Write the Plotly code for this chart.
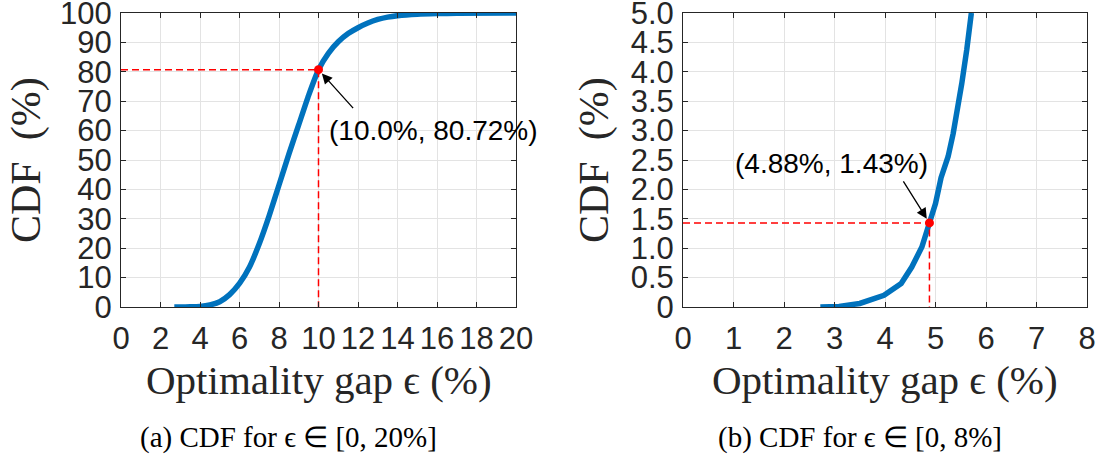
import plotly.graph_objects as go

# ---- data ----
gap_a = [2.7, 3.0, 3.5, 4.0, 4.5, 5.0, 5.5, 6.0, 6.5, 7.0, 7.5, 8.0, 8.5, 9.0, 9.5,
         10.0, 10.5, 11.0, 11.5, 12.0, 12.5, 13.0, 13.5, 14.0, 15.0, 16.0, 17.0, 20.0]
cdf_a = [0.0, 0.02, 0.06, 0.2, 0.7, 1.8, 4.2, 8.0, 13.5, 21.5, 31.0, 41.5, 52.0, 62.0, 72.0,
         80.72, 86.3, 90.2, 93.0, 95.0, 96.6, 97.8, 98.6, 99.1, 99.6, 99.8, 99.9, 100.0]

gap_b = [2.72, 3.09, 3.5, 3.98, 4.32, 4.53, 4.73, 4.88, 5.0, 5.11, 5.25, 5.35, 5.45, 5.52, 5.62, 5.71]
cdf_b = [0.0, 0.01, 0.06, 0.2, 0.4, 0.68, 1.02, 1.43, 1.76, 2.2, 2.56, 2.95, 3.4, 3.8, 4.38, 5.0]

point_a = (10.0, 80.72)
point_b = (4.88, 1.43)
label_a = "(10.0%, 80.72%)"
label_b = "(4.88%, 1.43%)"

xticks_a = list(range(0, 21, 2))
yticks_a = list(range(0, 101, 10))
xticks_b = list(range(0, 9))
yticks_b = [0, 0.5, 1.0, 1.5, 2.0, 2.5, 3.0, 3.5, 4.0, 4.5, 5.0]
yticktext_b = ["0", "0.5", "1.0", "1.5", "2.0", "2.5", "3.0", "3.5", "4.0", "4.5", "5.0"]

caption_a = "(a) CDF for ϵ ∈ [0, 20%]"
caption_b = "(b) CDF for ϵ ∈ [0, 8%]"
xtitle = "Optimality gap ϵ (%)"
ytitle = "CDF  (%)"

# ---- layout constants ----
W, H = 1101, 459
BLUE = "#0072BD"
RED = "#FF0000"
AX = "#262626"
GRID = "#e3e3e3"

def px(x):
    return x / W

def py(y):
    return 1 - y / H

fig = go.Figure()

for (gx, gy, pt, xa, ya, shp) in [(gap_a, cdf_a, point_a, "x", "y", "spline"),
                                  (gap_b, cdf_b, point_b, "x2", "y2", "linear")]:
    line = dict(color=BLUE, width=5.5, shape=shp)
    if shp == "spline":
        line["smoothing"] = 0.5
    fig.add_trace(go.Scatter(x=gx, y=gy, mode="lines", line=line,
                             xaxis=xa, yaxis=ya, showlegend=False, hoverinfo="skip"))
    fig.add_trace(go.Scatter(x=[0, pt[0], pt[0]], y=[pt[1], pt[1], 0], mode="lines",
                             line=dict(color=RED, width=1.5, dash="7px,4px"),
                             xaxis=xa, yaxis=ya, showlegend=False, hoverinfo="skip"))
    fig.add_trace(go.Scatter(x=[pt[0]], y=[pt[1]], mode="markers",
                             marker=dict(color=RED, size=9),
                             xaxis=xa, yaxis=ya, showlegend=False, hoverinfo="skip"))

tickfont = dict(family="Liberation Sans, Arial", size=31, color=AX)
common = dict(showline=True, linecolor=AX, linewidth=1, mirror="ticks", ticks="inside", ticklen=5,
              tickcolor=AX, tickwidth=1, showgrid=True, gridcolor=GRID, gridwidth=1, zeroline=False,
              tickfont=tickfont, fixedrange=True, automargin=False, ticklabeloverflow="allow")

ydom = [py(307), py(13)]
fig.update_layout(
    width=W, height=H, margin=dict(l=0, r=0, t=0, b=0, pad=0, autoexpand=False),
    paper_bgcolor="white", plot_bgcolor="white",
    xaxis=dict(domain=[px(121), px(516)], range=[0, 20], tickvals=xticks_a, anchor="y",
               ticklabelstandoff=4, **common),
    yaxis=dict(domain=ydom, range=[0, 100], tickvals=yticks_a, anchor="x",
               ticklabelstandoff=2, **common),
    xaxis2=dict(domain=[px(683), px(1087)], range=[0, 8], tickvals=xticks_b, anchor="y2",
                ticklabelstandoff=4, **common),
    yaxis2=dict(domain=ydom, range=[0, 5], tickvals=yticks_b, ticktext=yticktext_b, anchor="x2",
                ticklabelstandoff=2, **common),
)

serif = "Liberation Serif, Times New Roman, serif"
anns = []
# axis titles
for cx in (318.5, 885):
    anns.append(dict(text=xtitle, x=px(cx), y=py(380), xref="paper", yref="paper", showarrow=False,
                     font=dict(family=serif, size=41, color=AX), xanchor="center", yanchor="middle"))
for cx in (26, 594):
    anns.append(dict(text=ytitle, x=px(cx), y=py(160), xref="paper", yref="paper", showarrow=False,
                     textangle=-90, font=dict(family=serif, size=42, color=AX), xanchor="center", yanchor="middle"))
# captions
anns.append(dict(text=caption_a, x=px(288), y=py(437), xref="paper", yref="paper", showarrow=False,
                 font=dict(family=serif, size=29, color="#000"), xanchor="center", yanchor="middle"))
anns.append(dict(text=caption_b, x=px(860), y=py(437), xref="paper", yref="paper", showarrow=False,
                 font=dict(family=serif, size=29, color="#000"), xanchor="center", yanchor="middle"))
# point labels
anns.append(dict(text=label_a, x=px(327), y=py(130), xref="paper", yref="paper", showarrow=False,
                 font=dict(family="Liberation Sans, Arial", size=28, color="#000"), xanchor="left", yanchor="middle"))
anns.append(dict(text=label_b, x=px(831), y=py(163), xref="paper", yref="paper", showarrow=False,
                 font=dict(family="Liberation Sans, Arial", size=28, color="#000"), xanchor="center", yanchor="middle"))
# arrows
anns.append(dict(text="", x=point_a[0], y=point_a[1], xref="x", yref="y", showarrow=True,
                 ax=36, ay=40, axref="pixel", ayref="pixel", arrowhead=2, arrowsize=1.6, arrowwidth=1.3,
                 arrowcolor="#000", standoff=5))
anns.append(dict(text="", x=point_b[0], y=point_b[1], xref="x2", yref="y2", showarrow=True,
                 ax=-27, ay=-43, axref="pixel", ayref="pixel", arrowhead=2, arrowsize=1.6, arrowwidth=1.3,
                 arrowcolor="#000", standoff=5))
fig.update_layout(annotations=anns)

fig.write_html("out.html")
